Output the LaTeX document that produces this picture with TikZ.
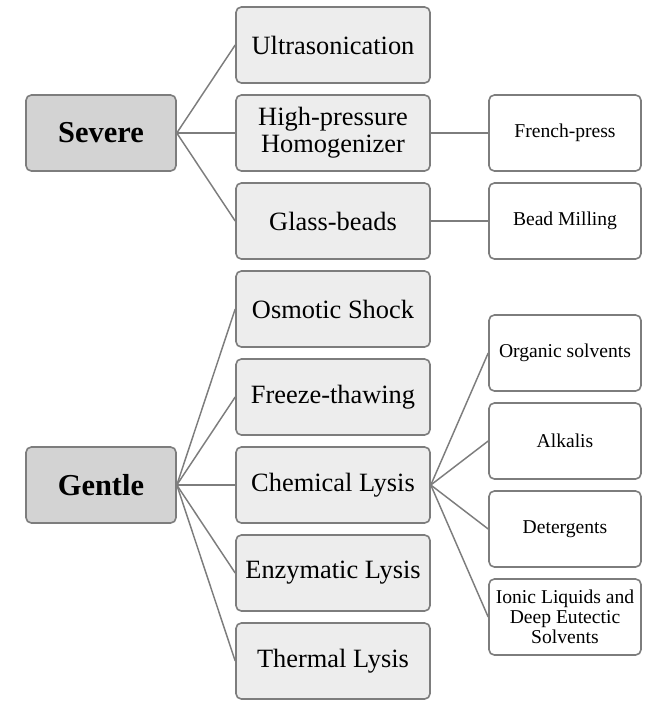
\documentclass[tikz,border=0pt]{standalone}
\usepackage{fontspec}
\setmainfont{Liberation Serif}
\definecolor{boxline}{RGB}{125,125,125}
\definecolor{darkfill}{RGB}{211,211,211}
\definecolor{lightfill}{RGB}{237,237,237}
\tikzset{every picture/.style={line width=0.75pt}}
\tikzset{
  groupbox/.style={draw=boxline, fill=darkfill, rounded corners=4pt, line width=1.2pt,
    minimum width=112.5pt, minimum height=57pt, inner sep=2pt,
    font=\fontsize{22.8}{24}\selectfont\bfseries},
  methodbox/.style={draw=boxline, fill=lightfill, rounded corners=4pt, line width=1.2pt,
    minimum width=145.5pt, minimum height=57pt, inner sep=2pt, align=center,
    font=\fontsize{19.8}{20.5}\selectfont},
  subbox/.style={draw=boxline, fill=white, rounded corners=4pt, line width=1.2pt,
    minimum width=114pt, minimum height=57pt, inner sep=2pt, align=center,
    font=\fontsize{14.7}{15}\selectfont},
  link/.style={draw=boxline, line width=1.1pt}
}
\begin{document}
\begin{tikzpicture}[x=0.75pt,y=0.75pt,yscale=-1,xscale=1]
\useasboundingbox (0,0) rectangle (656,701); %set diagram to 656 x 701
%Rounded Rect: groups
\node [groupbox] (severe) at (101,133) {Severe};
\node [groupbox] (gentle) at (101,485) {Gentle};
%Rounded Rect: methods
\node [methodbox] (ultra) at (333,45) {Ultrasonication};
\node [methodbox] (hph) at (333,133) {High-pressure\\Homogenizer};
\node [methodbox] (glass) at (333,221) {Glass-beads};
\node [methodbox] (osmo) at (333,309) {Osmotic Shock};
\node [methodbox] (freeze) at (333,397) {Freeze-thawing};
\node [methodbox] (chem) at (333,485) {Chemical Lysis};
\node [methodbox] (enzy) at (333,573) {Enzymatic Lysis};
\node [methodbox] (therm) at (333,661) {Thermal Lysis};
%Rounded Rect: sub methods
\node [subbox] (french) at (565,133) {French-press};
\node [subbox] (bead) at (565,221) {Bead Milling};
\node [subbox] (organic) at (565,353) {Organic solvents};
\node [subbox] (alkali) at (565,441) {Alkalis};
\node [subbox] (deterg) at (565,529) {Detergents};
\node [subbox] (ionic) at (565,617) {Ionic Liquids and\\Deep Eutectic\\Solvents};
%Straight Lines
\foreach \m in {ultra,hph,glass}
  \draw [link] (severe.east) -- (\m.west);
\foreach \m in {osmo,freeze,chem,enzy,therm}
  \draw [link] (gentle.east) -- (\m.west);
\draw [link] (hph.east) -- (french.west);
\draw [link] (glass.east) -- (bead.west);
\foreach \s in {organic,alkali,deterg,ionic}
  \draw [link] (chem.east) -- (\s.west);
\end{tikzpicture}
\end{document}
